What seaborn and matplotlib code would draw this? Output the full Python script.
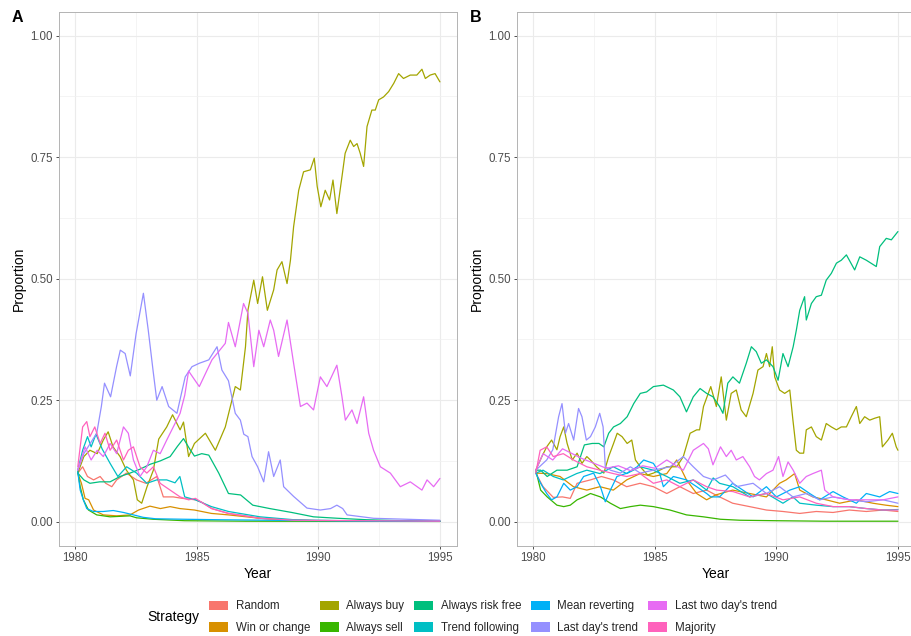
import matplotlib
matplotlib.use("Agg")
import matplotlib.pyplot as plt
from matplotlib.patches import Patch
import pandas as pd
import seaborn as sns

strategies = ["Random", "Win or change", "Always buy", "Always sell", "Always risk free",
              "Trend following", "Mean reverting", "Last day's trend", "Last two day's trend", "Majority"]
colors = ["#F8766D", "#D89000", "#A3A500", "#39B600", "#00BF7D",
          "#00BFC4", "#00B0F6", "#9590FF", "#E76BF3", "#FF62BC"]
x_ticks = [1980, 1985, 1990, 1995]
y_ticks = [0.0, 0.25, 0.5, 0.75, 1.0]
y_tick_labels = ["0.00", "0.25", "0.50", "0.75", "1.00"]

# ---------------- Panel A ----------------
a_random_x = [1980.1, 1980.3, 1980.5, 1980.75, 1981.02, 1981.25, 1981.5, 1981.7, 1982.1, 1982.52, 1982.9, 1983.35,
              1983.62, 1984.03, 1984.4, 1984.94, 1985.2, 1985.62, 1986.3, 1987.0, 1987.6, 1988.5, 1990.0, 1992.0, 1995.0]
a_random_y = [0.10, 0.113, 0.093, 0.086, 0.093, 0.079, 0.072, 0.086, 0.10, 0.086, 0.079, 0.093,
              0.051, 0.051, 0.048, 0.045, 0.040, 0.027, 0.017, 0.012, 0.007, 0.004, 0.002, 0.001, 0.001]

a_win_x = [1980.1, 1980.25, 1980.4, 1980.55, 1980.75, 1981.15, 1981.7, 1982.25, 1982.6, 1983.07, 1983.5, 1983.9,
           1984.3, 1984.9, 1985.6, 1986.3, 1987.6, 1989.0, 1991.0, 1995.0]
a_win_y = [0.10, 0.079, 0.048, 0.045, 0.024, 0.014, 0.012, 0.014, 0.024, 0.032, 0.027, 0.031,
           0.027, 0.024, 0.017, 0.014, 0.007, 0.003, 0.001, 0.001]

a_buy_x = [1980.1, 1980.35, 1980.6, 1980.9, 1981.15, 1981.35, 1981.55, 1981.84, 1982.1, 1982.39, 1982.55, 1982.73,
           1982.95, 1983.21, 1983.43, 1983.76, 1984.0, 1984.31, 1984.45, 1984.66, 1984.9, 1985.35, 1985.76, 1986.17,
           1986.58, 1986.79, 1987.0, 1987.1, 1987.34, 1987.5, 1987.7, 1987.9, 1988.16, 1988.3, 1988.5, 1988.71,
           1988.85, 1988.98, 1989.19, 1989.39, 1989.67, 1989.83, 1989.95, 1990.1, 1990.28, 1990.46, 1990.6, 1990.76,
           1990.97, 1991.1, 1991.31, 1991.45, 1991.59, 1991.72, 1991.86, 1992.0, 1992.2, 1992.34, 1992.48, 1992.68,
           1992.89, 1993.1, 1993.3, 1993.5, 1993.78, 1994.05, 1994.26, 1994.4, 1994.6, 1994.8, 1995.0]
a_buy_y = [0.10, 0.134, 0.147, 0.14, 0.168, 0.185, 0.154, 0.134, 0.106, 0.086, 0.045, 0.038,
           0.072, 0.106, 0.17, 0.195, 0.22, 0.189, 0.205, 0.134, 0.161, 0.182, 0.147, 0.195,
           0.278, 0.271, 0.36, 0.435, 0.497, 0.449, 0.504, 0.435, 0.477, 0.518, 0.535, 0.49,
           0.538, 0.607, 0.682, 0.72, 0.724, 0.748, 0.69, 0.648, 0.682, 0.662, 0.703, 0.634,
           0.71, 0.758, 0.785, 0.772, 0.778, 0.758, 0.731, 0.813, 0.847, 0.847, 0.868, 0.874,
           0.885, 0.902, 0.922, 0.912, 0.919, 0.919, 0.931, 0.912, 0.919, 0.922, 0.905]

a_sell_x = [1980.1, 1980.2, 1980.33, 1980.54, 1980.88, 1981.43, 1982.25, 1982.52, 1983.2, 1984.5, 1987.0, 1995.0]
a_sell_y = [0.103, 0.072, 0.045, 0.024, 0.014, 0.010, 0.012, 0.008, 0.005, 0.002, 0.001, 0.0005]

a_free_x = [1980.1, 1980.35, 1980.6, 1981.0, 1981.43, 1981.84, 1982.25, 1982.66, 1983.07, 1983.49, 1983.9, 1984.2,
            1984.45, 1984.7, 1984.9, 1985.2, 1985.49, 1985.9, 1986.3, 1986.8, 1987.3, 1988.0, 1988.9, 1989.8,
            1990.8, 1992.0, 1993.5, 1995.0]
a_free_y = [0.10, 0.086, 0.079, 0.082, 0.082, 0.093, 0.10, 0.108, 0.118, 0.125, 0.134, 0.155,
            0.171, 0.15, 0.135, 0.14, 0.137, 0.10, 0.058, 0.055, 0.034, 0.027, 0.019, 0.010,
            0.007, 0.004, 0.002, 0.001]

a_trend_x = [1980.1, 1980.3, 1980.5, 1980.65, 1980.85, 1981.1, 1981.43, 1981.75, 1982.11, 1982.52, 1982.94, 1983.35,
             1983.76, 1984.1, 1984.3, 1984.5, 1984.94, 1985.6, 1986.3, 1987.6, 1989.0, 1991.0, 1995.0]
a_trend_y = [0.106, 0.147, 0.175, 0.154, 0.18, 0.15, 0.12, 0.093, 0.113, 0.10, 0.079, 0.086,
             0.086, 0.08, 0.093, 0.051, 0.045, 0.031, 0.021, 0.010, 0.004, 0.002, 0.001]

a_mean_x = [1980.1, 1980.2, 1980.33, 1980.47, 1980.74, 1981.15, 1981.56, 1981.98, 1982.39, 1982.79, 1983.3, 1984.5,
            1986.0, 1988.0, 1990.0, 1995.0]
a_mean_y = [0.103, 0.065, 0.045, 0.027, 0.021, 0.021, 0.023, 0.019, 0.014, 0.009, 0.006, 0.005,
            0.004, 0.003, 0.002, 0.001]

a_lastday_x = [1980.1, 1980.35, 1980.6, 1980.88, 1981.07, 1981.2, 1981.45, 1981.7, 1981.85, 1982.05, 1982.26, 1982.5,
               1982.8, 1983.0, 1983.2, 1983.35, 1983.57, 1983.84, 1984.18, 1984.52, 1984.8, 1985.1, 1985.49, 1985.83,
               1986.03, 1986.3, 1986.58, 1986.79, 1986.93, 1987.1, 1987.27, 1987.5, 1987.75, 1987.95, 1988.16, 1988.43,
               1988.57, 1988.98, 1989.53, 1990.08, 1990.5, 1990.76, 1991.0, 1991.18, 1992.27, 1995.0]
a_lastday_y = [0.106, 0.14, 0.16, 0.182, 0.237, 0.285, 0.257, 0.32, 0.353, 0.346, 0.30, 0.387,
               0.47, 0.394, 0.31, 0.25, 0.278, 0.237, 0.223, 0.298, 0.319, 0.326, 0.333, 0.36,
               0.312, 0.29, 0.223, 0.209, 0.18, 0.175, 0.134, 0.113, 0.082, 0.144, 0.093, 0.127,
               0.072, 0.052, 0.028, 0.024, 0.027, 0.034, 0.027, 0.014, 0.007, 0.003]

a_twoday_x = [1980.1, 1980.4, 1980.65, 1980.9, 1981.15, 1981.43, 1981.7, 1981.98, 1982.18, 1982.39, 1982.66, 1982.94,
              1983.21, 1983.49, 1983.76, 1984.03, 1984.31, 1984.5, 1984.66, 1985.1, 1985.62, 1986.17, 1986.3, 1986.58,
              1986.92, 1987.1, 1987.34, 1987.55, 1987.75, 1988.02, 1988.16, 1988.36, 1988.71, 1988.98, 1989.26,
              1989.53, 1989.8, 1990.08, 1990.35, 1990.76, 1990.97, 1991.11, 1991.38, 1991.59, 1991.86, 1992.07,
              1992.27, 1992.55, 1992.96, 1993.37, 1993.78, 1994.26, 1994.47, 1994.74, 1995.0]
a_twoday_y = [0.106, 0.154, 0.127, 0.147, 0.134, 0.161, 0.14, 0.195, 0.182, 0.127, 0.093, 0.113,
              0.147, 0.14, 0.168, 0.195, 0.223, 0.26, 0.31, 0.278, 0.333, 0.367, 0.41, 0.36,
              0.449, 0.429, 0.319, 0.394, 0.36, 0.415, 0.394, 0.34, 0.415, 0.326, 0.237,
              0.244, 0.23, 0.298, 0.278, 0.322, 0.257, 0.209, 0.23, 0.202, 0.257, 0.182,
              0.147, 0.113, 0.10, 0.072, 0.082, 0.065, 0.086, 0.072, 0.089]

a_major_x = [1980.1, 1980.3, 1980.47, 1980.6, 1980.8, 1981.02, 1981.22, 1981.43, 1981.7, 1981.98, 1982.18, 1982.39,
             1982.66, 1982.94, 1983.21, 1983.49, 1983.9, 1984.31, 1984.66, 1984.94, 1985.6, 1986.3, 1987.6, 1989.0,
             1995.0]
a_major_y = [0.113, 0.195, 0.206, 0.175, 0.195, 0.161, 0.182, 0.147, 0.168, 0.127, 0.147, 0.154,
             0.113, 0.10, 0.113, 0.079, 0.065, 0.051, 0.045, 0.048, 0.027, 0.017, 0.007, 0.003,
             0.001]

# ---------------- Panel B ----------------
b_random_x = [1980.1, 1980.4, 1980.82, 1981.2, 1981.52, 1981.8, 1982.35, 1982.8, 1983.29, 1983.84, 1984.39, 1984.94,
              1985.49, 1986.03, 1986.58, 1987.13, 1987.5, 1988.2, 1988.9, 1989.59, 1990.27, 1990.96, 1991.64, 1992.33,
              1993.0, 1993.7, 1994.39, 1995.0]
b_random_y = [0.10, 0.072, 0.05, 0.051, 0.048, 0.079, 0.086, 0.093, 0.086, 0.072, 0.079, 0.072,
              0.058, 0.072, 0.058, 0.065, 0.055, 0.038, 0.031, 0.024, 0.021, 0.017, 0.021, 0.019,
              0.024, 0.021, 0.024, 0.021]

b_win_x = [1980.1, 1980.55, 1981.1, 1981.65, 1982.2, 1982.74, 1983.29, 1983.84, 1984.39, 1984.94, 1985.49, 1985.9,
           1986.3, 1986.72, 1987.13, 1987.5, 1988.2, 1988.9, 1989.59, 1990.13, 1990.4, 1990.75, 1990.96, 1991.5,
           1992.05, 1992.6, 1993.29, 1993.97, 1994.5, 1995.0]
b_win_y = [0.10, 0.099, 0.093, 0.072, 0.065, 0.072, 0.065, 0.086, 0.099, 0.093, 0.099, 0.127,
           0.086, 0.058, 0.045, 0.055, 0.065, 0.058, 0.051, 0.079, 0.086, 0.099, 0.065, 0.051,
           0.045, 0.038, 0.045, 0.038, 0.034, 0.031]

b_buy_x = [1980.1, 1980.35, 1980.55, 1980.75, 1980.97, 1981.1, 1981.25, 1981.39, 1981.6, 1981.8, 1982.0, 1982.2,
           1982.35, 1982.6, 1982.9, 1983.1, 1983.3, 1983.45, 1983.65, 1983.86, 1984.05, 1984.2, 1984.4, 1984.7,
           1984.94, 1985.2, 1985.49, 1985.9, 1986.17, 1986.45, 1986.72, 1986.84, 1987.0, 1987.3, 1987.53, 1987.73,
           1987.94, 1988.14, 1988.35, 1988.55, 1988.76, 1989.04, 1989.24, 1989.45, 1989.59, 1989.72, 1989.83,
           1989.93, 1990.13, 1990.34, 1990.55, 1990.68, 1990.82, 1990.96, 1991.12, 1991.23, 1991.44, 1991.64,
           1991.85, 1992.05, 1992.26, 1992.47, 1992.67, 1992.88, 1993.08, 1993.29, 1993.43, 1993.63, 1993.84,
           1994.05, 1994.25, 1994.36, 1994.59, 1994.77, 1994.93, 1995.0]
b_buy_y = [0.106, 0.134, 0.154, 0.168, 0.148, 0.175, 0.195, 0.161, 0.127, 0.141, 0.12, 0.134,
           0.127, 0.113, 0.10, 0.134, 0.161, 0.182, 0.175, 0.161, 0.168, 0.127, 0.113, 0.096,
           0.10, 0.106, 0.113, 0.113, 0.134, 0.182, 0.189, 0.189, 0.237, 0.278, 0.237, 0.298,
           0.209, 0.264, 0.271, 0.23, 0.216, 0.264, 0.312, 0.319, 0.346, 0.319, 0.36,
           0.298, 0.271, 0.264, 0.271, 0.209, 0.147, 0.141, 0.141, 0.189, 0.195, 0.175,
           0.168, 0.202, 0.195, 0.189, 0.195, 0.195, 0.216, 0.237, 0.202, 0.216, 0.209,
           0.213, 0.216, 0.154, 0.168, 0.182, 0.154, 0.147]

b_sell_x = [1980.1, 1980.3, 1980.57, 1980.97, 1981.25, 1981.52, 1981.8, 1982.07, 1982.35, 1982.76, 1983.17, 1983.58,
            1983.99, 1984.4, 1984.94, 1985.62, 1986.3, 1987.0, 1987.7, 1988.5, 1990.0, 1992.0, 1995.0]
b_sell_y = [0.106, 0.065, 0.051, 0.034, 0.031, 0.034, 0.045, 0.051, 0.058, 0.051, 0.038, 0.027,
            0.031, 0.034, 0.031, 0.024, 0.014, 0.010, 0.005, 0.003, 0.002, 0.001, 0.001]

b_free_x = [1980.1, 1980.3, 1980.57, 1980.97, 1981.39, 1981.8, 1982.1, 1982.42, 1982.7, 1982.9, 1983.1, 1983.3,
            1983.58, 1983.86, 1984.13, 1984.4, 1984.66, 1984.94, 1985.35, 1985.76, 1986.03, 1986.3, 1986.58,
            1986.86, 1987.13, 1987.39, 1987.66, 1987.8, 1988.0, 1988.21, 1988.48, 1988.76, 1988.97, 1989.17,
            1989.38, 1989.59, 1989.86, 1990.07, 1990.27, 1990.48, 1990.69, 1990.82, 1990.96, 1991.16, 1991.23,
            1991.44, 1991.64, 1991.85, 1992.05, 1992.26, 1992.47, 1992.67, 1992.88, 1993.22, 1993.43, 1993.7,
            1994.11, 1994.25, 1994.52, 1994.73, 1995.0]
b_free_y = [0.106, 0.106, 0.093, 0.106, 0.106, 0.113, 0.158, 0.161, 0.161, 0.154, 0.182, 0.195,
            0.202, 0.216, 0.243, 0.264, 0.267, 0.278, 0.281, 0.271, 0.257, 0.226, 0.257,
            0.274, 0.264, 0.257, 0.237, 0.223, 0.285, 0.298, 0.285, 0.326, 0.36, 0.35,
            0.326, 0.333, 0.319, 0.291, 0.346, 0.319, 0.36, 0.394, 0.435, 0.463, 0.415,
            0.449, 0.463, 0.466, 0.497, 0.511, 0.532, 0.538, 0.549, 0.518, 0.545, 0.538,
            0.525, 0.566, 0.583, 0.58, 0.597]

b_trend_x = [1980.1, 1980.4, 1980.82, 1981.23, 1981.78, 1982.2, 1982.74, 1983.29, 1983.84, 1984.39, 1984.94, 1985.49,
             1986.03, 1986.58, 1987.13, 1987.4, 1987.66, 1988.21, 1988.9, 1989.59, 1990.27, 1990.68, 1990.96,
             1991.64, 1992.33, 1993.0, 1993.7, 1994.39, 1995.0]
b_trend_y = [0.10, 0.106, 0.093, 0.086, 0.099, 0.106, 0.099, 0.113, 0.099, 0.113, 0.106, 0.093,
             0.079, 0.086, 0.065, 0.09, 0.079, 0.072, 0.051, 0.058, 0.038, 0.051, 0.038,
             0.034, 0.031, 0.031, 0.027, 0.024, 0.025]

b_mean_x = [1980.1, 1980.3, 1980.55, 1980.75, 1980.97, 1981.25, 1981.52, 1981.8, 1982.07, 1982.48, 1982.76, 1982.96,
            1983.17, 1983.44, 1983.86, 1984.27, 1984.54, 1984.94, 1985.2, 1985.35, 1985.76, 1986.3, 1986.72,
            1987.13, 1987.3, 1987.66, 1988.2, 1988.62, 1989.04, 1989.59, 1990.0, 1990.55, 1990.96, 1991.37,
            1991.78, 1992.33, 1992.74, 1993.29, 1993.7, 1994.25, 1994.66, 1995.0]
b_mean_y = [0.10, 0.079, 0.058, 0.045, 0.051, 0.079, 0.065, 0.072, 0.093, 0.10, 0.072, 0.041,
            0.065, 0.093, 0.10, 0.113, 0.127, 0.12, 0.099, 0.072, 0.093, 0.086, 0.072,
            0.058, 0.051, 0.051, 0.079, 0.065, 0.051, 0.072, 0.051, 0.065, 0.072, 0.058,
            0.045, 0.062, 0.051, 0.038, 0.058, 0.051, 0.062, 0.058]

b_lastday_x = [1980.1, 1980.55, 1980.8, 1981.04, 1981.18, 1981.32, 1981.45, 1981.66, 1981.86, 1982.0, 1982.18, 1982.35,
               1982.55, 1982.73, 1982.87, 1982.96, 1983.17, 1983.58, 1983.99, 1984.4, 1984.94, 1985.62, 1986.17,
               1986.58, 1987.0, 1987.41, 1987.9, 1988.35, 1989.04, 1989.59, 1990.13, 1990.68, 1991.23, 1991.78,
               1992.33, 1993.0, 1993.7, 1994.39, 1995.0]
b_lastday_y = [0.106, 0.127, 0.148, 0.216, 0.243, 0.182, 0.202, 0.168, 0.233, 0.216, 0.168, 0.175,
               0.195, 0.223, 0.195, 0.113, 0.106, 0.10, 0.113, 0.10, 0.106, 0.113, 0.134,
               0.113, 0.093, 0.086, 0.096, 0.072, 0.079, 0.058, 0.072, 0.051, 0.058, 0.045,
               0.051, 0.045, 0.041, 0.045, 0.038]

b_twoday_x = [1980.1, 1980.4, 1980.8, 1981.2, 1981.6, 1982.0, 1982.5, 1983.0, 1983.5, 1984.0, 1984.5, 1985.0,
              1985.49, 1986.17, 1986.58, 1987.0, 1987.2, 1987.39, 1987.7, 1987.94, 1988.14, 1988.35, 1988.62,
              1988.9, 1989.1, 1989.3, 1989.59, 1989.86, 1990.09, 1990.27, 1990.48, 1990.69, 1990.96, 1991.23,
              1991.5, 1991.85, 1991.99, 1992.33, 1993.01, 1993.7, 1994.39, 1995.0]
b_twoday_y = [0.106, 0.14, 0.127, 0.15, 0.14, 0.13, 0.12, 0.11, 0.115, 0.105, 0.115, 0.11,
              0.127, 0.106, 0.147, 0.161, 0.15, 0.117, 0.154, 0.134, 0.147, 0.127, 0.134,
              0.113, 0.093, 0.086, 0.099, 0.106, 0.134, 0.093, 0.123, 0.106, 0.079, 0.093,
              0.099, 0.106, 0.065, 0.051, 0.045, 0.045, 0.045, 0.051]

b_major_x = [1980.1, 1980.28, 1980.55, 1980.82, 1981.23, 1981.65, 1982.2, 1982.74, 1983.29, 1983.84, 1984.39, 1984.94,
             1985.49, 1986.03, 1986.58, 1987.13, 1987.54, 1988.21, 1988.9, 1989.59, 1990.27, 1990.96, 1991.64,
             1992.33, 1993.0, 1993.7, 1994.39, 1995.0]
b_major_y = [0.10, 0.147, 0.154, 0.134, 0.14, 0.127, 0.113, 0.106, 0.099, 0.093, 0.099, 0.079,
             0.086, 0.072, 0.086, 0.072, 0.065, 0.062, 0.051, 0.058, 0.045, 0.051, 0.038,
             0.031, 0.031, 0.027, 0.024, 0.024]

panel_a = [(a_random_x, a_random_y), (a_win_x, a_win_y), (a_buy_x, a_buy_y), (a_sell_x, a_sell_y),
           (a_free_x, a_free_y), (a_trend_x, a_trend_y), (a_mean_x, a_mean_y), (a_lastday_x, a_lastday_y),
           (a_twoday_x, a_twoday_y), (a_major_x, a_major_y)]
panel_b = [(b_random_x, b_random_y), (b_win_x, b_win_y), (b_buy_x, b_buy_y), (b_sell_x, b_sell_y),
           (b_free_x, b_free_y), (b_trend_x, b_trend_y), (b_mean_x, b_mean_y), (b_lastday_x, b_lastday_y),
           (b_twoday_x, b_twoday_y), (b_major_x, b_major_y)]


def to_frame(panel):
    rows = []
    for name, (xs, ys) in zip(strategies, panel):
        for x, y in zip(xs, ys):
            rows.append({"Year": x, "Proportion": y, "Strategy": name})
    return pd.DataFrame(rows)


sns.set_theme(style="whitegrid")
plt.rcParams["font.family"] = ["Liberation Sans", "DejaVu Sans"]

W, H = 911, 636
fig = plt.figure(figsize=(W / 100, H / 100), dpi=100)
fig.patch.set_facecolor("white")

ax_w = 397.4 / W
ax_h = 534.0 / H
ax_b = 1 - 545.7 / H
axA = fig.add_axes([59.3 / W, ax_b, ax_w, ax_h])
axB = fig.add_axes([517.3 / W, ax_b, ax_w, ax_h])

palette = dict(zip(strategies, colors))

for ax, panel, tag, tag_x in [(axA, panel_a, "A", 12), (axB, panel_b, "B", 470)]:
    df = to_frame(panel)
    sns.lineplot(data=df, x="Year", y="Proportion", hue="Strategy", hue_order=strategies,
                 palette=palette, estimator=None, sort=True, legend=False, ax=ax, linewidth=0.9)
    ax.set_facecolor("white")
    ax.set_xlim(1979.34, 1995.69)
    ax.set_ylim(-0.0494, 1.0494)
    ax.set_xticks(x_ticks)
    ax.set_xticks([1982.5, 1987.5, 1992.5], minor=True)
    ax.set_yticks(y_ticks)
    ax.set_yticklabels(y_tick_labels)
    ax.set_yticks([0.125, 0.375, 0.625, 0.875], minor=True)
    ax.grid(which="major", color="#EBEBEB", linewidth=0.8)
    ax.grid(which="minor", color="#F1F1F1", linewidth=0.55)
    ax.set_axisbelow(True)
    for s in ax.spines.values():
        s.set_visible(True)
        s.set_color("#B3B3B3")
        s.set_linewidth(0.7)
    ax.tick_params(which="major", length=2.5, width=0.6, color="#333333",
                   labelsize=8.3, labelcolor="#4D4D4D", pad=2.0,
                   bottom=True, left=True)
    ax.tick_params(which="minor", length=0)
    ax.set_xlabel("Year", fontsize=10, color="black", labelpad=2.5)
    ax.set_ylabel("Proportion", fontsize=10, color="black", labelpad=3.5)
    fig.text(tag_x / W, 1 - 9.5 / H, tag, fontsize=11.5, fontweight="bold",
             ha="left", va="top", color="black")

handles = [Patch(facecolor=c, edgecolor="none", label=s) for s, c in zip(strategies, colors)]
fig.legend(handles=handles, loc="center left", bbox_to_anchor=(209 / W, 1 - 617 / H),
           ncol=5, frameon=False, fontsize=8.3, handlelength=1.65, handleheight=0.85,
           handletextpad=0.65, columnspacing=0.85, labelspacing=0.85, borderpad=0, borderaxespad=0)
fig.text(147 / W, 1 - 617 / H, "Strategy", fontsize=10, ha="left", va="center", color="black")

fig.savefig("out.png", dpi=100, facecolor="white")
